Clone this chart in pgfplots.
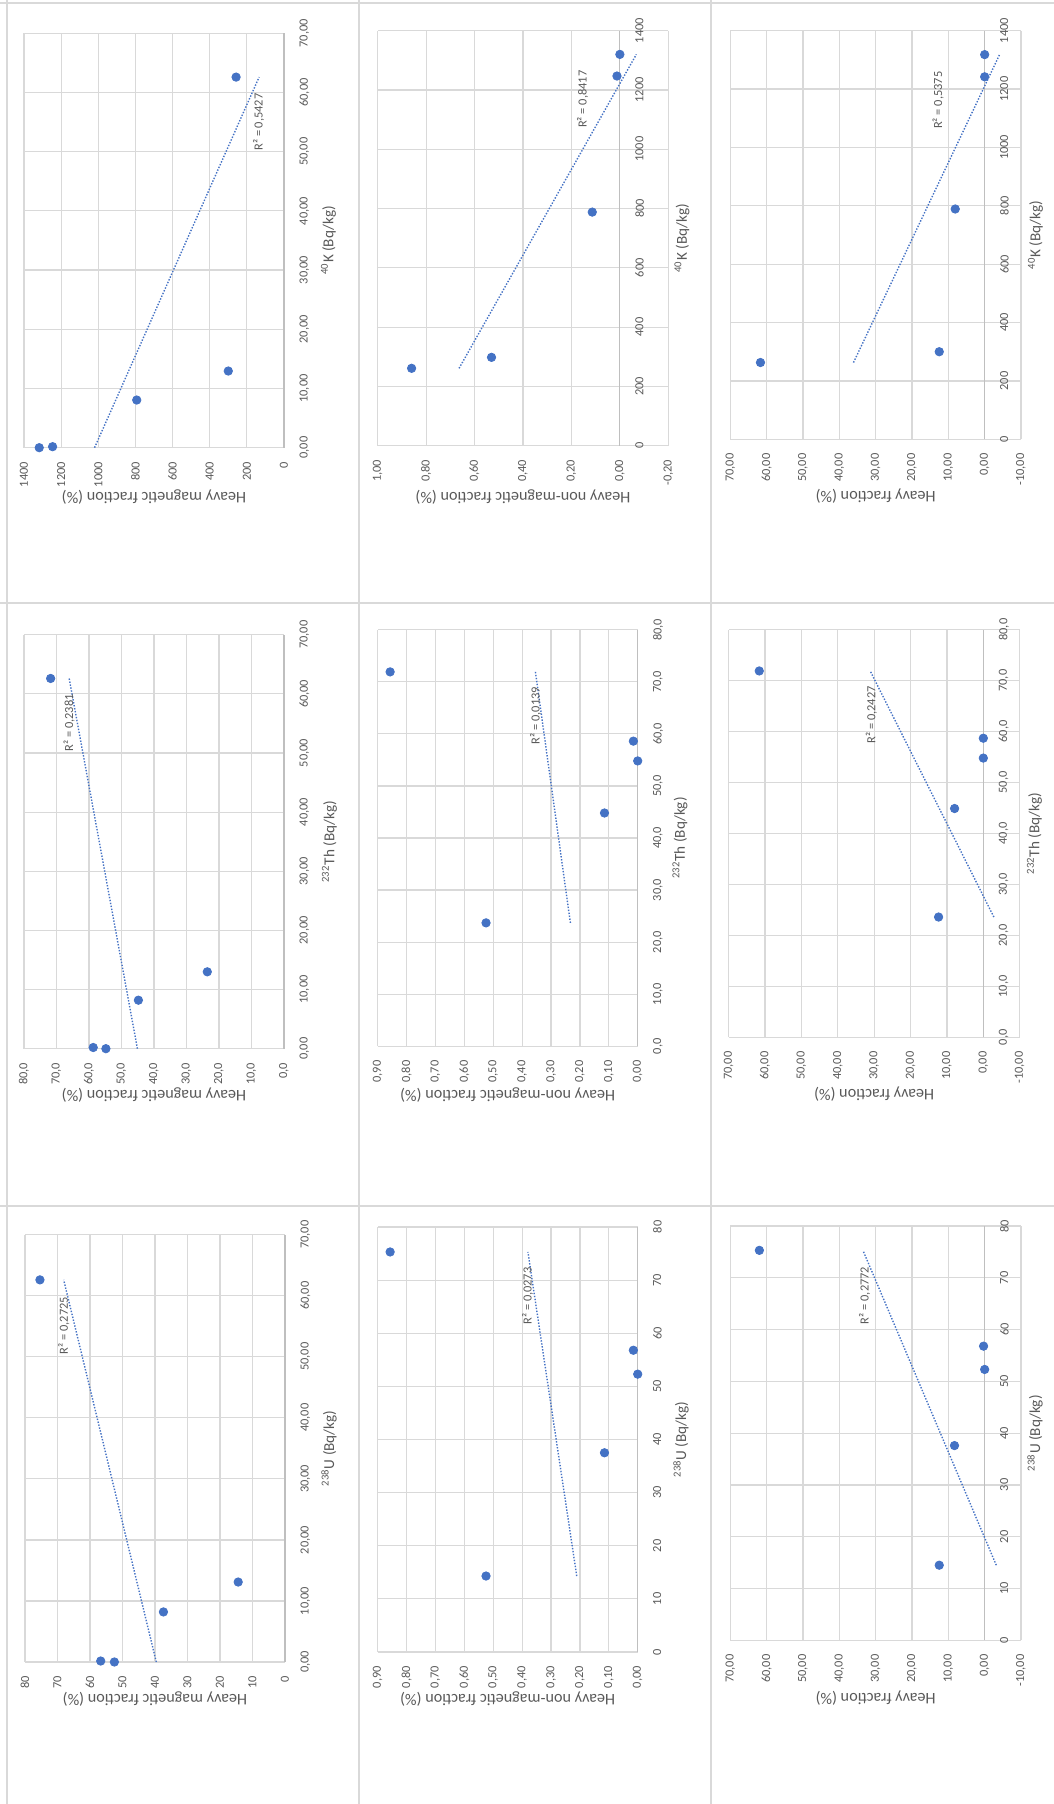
\documentclass[border=0pt]{standalone}
\usepackage{pgfplots}
\pgfplotsset{compat=1.18}
\usepackage{fontspec}
\setmainfont{Carlito}
\definecolor{dot}{HTML}{4472C4}
\definecolor{txt}{HTML}{595959}
\definecolor{grd}{HTML}{D9D9D9}
\definecolor{axl}{HTML}{BFBFBF}
\pgfplotsset{
  panel/.style={
    scale only axis,
    anchor=north west,
    axis x line*=middle,
    axis y line*=left,
    hide obscured x ticks=false,
    hide obscured y ticks=false,
    x axis line style={draw=axl, line width=0.6pt},
    y axis line style={draw=none},
    grid=major,
    major grid style={draw=grd, line width=0.6pt},
    major tick length=0pt,
    tick style={draw=none},
    ticklabel style={font=\fontsize{6.2}{7}\selectfont, text=txt},
    xticklabel style={yshift=-4.2pt},
    yticklabel style={xshift=-3.6pt},
    /pgf/number format/assume math mode=true,
    /pgf/number format/use comma,
    /pgf/number format/1000 sep={},
    clip=false,
  },
  xdec/.style={xticklabel style={/pgf/number format/fixed,/pgf/number format/fixed zerofill,/pgf/number format/precision=#1}},
  ydec/.style={yticklabel style={/pgf/number format/fixed,/pgf/number format/fixed zerofill,/pgf/number format/precision=#1}},
  pts/.style={only marks, mark=*, mark size=2.1pt, mark options={fill=dot, draw=dot}},
  trend/.style={dot, line width=0.7pt, dash pattern=on 0.7pt off 0.8pt},
}
\tikzset{
  r2/.style={font=\fontsize{6.2}{7}\selectfont, text=txt},
  xl/.style={font=\fontsize{7.6}{8}\selectfont, text=txt},
  yl/.style={font=\fontsize{8.1}{9}\selectfont, text=txt, rotate=90},
}
\begin{document}
\begin{tikzpicture}[rotate=90, transform shape]
\useasboundingbox (0,0) rectangle (902pt,-527pt);
% chart borders
\draw[grd, line width=0.7pt] (0pt,-3.5pt) -- (902pt,-3.5pt);
\draw[grd, line width=0.7pt] (0pt,-179.5pt) -- (902pt,-179.5pt);
\draw[grd, line width=0.7pt] (0pt,-355.5pt) -- (902pt,-355.5pt);
\draw[grd, line width=0.7pt] (299pt,0pt) -- (299pt,-527pt);
\draw[grd, line width=0.7pt] (600.5pt,0pt) -- (600.5pt,-527pt);
\draw[grd, line width=0.7pt] (900.5pt,0pt) -- (900.5pt,-527pt);

% ---------- Row 1: magnetic ----------
% P1 U
\begin{axis}[panel, at={(71pt,-12.5pt)}, width=213.65pt, height=130pt,
  xmin=0, xmax=70, ymin=0, ymax=80, xtick distance=10, ytick distance=10, xdec=2]
\addplot[pts] coordinates {(62.6,75.4) (13.1,14.4) (8.2,37.4) (0.16,56.7) (0,52.5)};
\addplot[trend] coordinates {(0,39.6) (62.6,68.1)};
\node[r2] at (axis cs:55.1,68.0) {R² = 0,2725};
\end{axis}
% P4 Th
\begin{axis}[panel, at={(377.65pt,-12pt)}, width=207pt, height=130pt,
  xmin=0, xmax=70, ymin=0, ymax=80, xtick distance=10, ytick distance=10, xdec=2, ydec=1]
\addplot[pts] coordinates {(62.6,71.8) (13.0,23.6) (8.2,44.8) (0.2,58.7) (0,54.8)};
\addplot[trend] coordinates {(0,45.1) (62.6,66.1)};
\node[r2] at (axis cs:55.1,66.1) {R² = 0,2381};
\end{axis}
% P7 K
\begin{axis}[panel, at={(678.15pt,-12pt)}, width=207.2pt, height=130pt,
  xmin=0, xmax=70, ymin=0, ymax=1400, xtick distance=10, ytick distance=200, xdec=2]
\addplot[pts] coordinates {(62.6,258) (12.95,300) (8.05,793) (0,1318) (0.17,1246)};
\addplot[trend] coordinates {(0,1020) (62.6,134)};
\node[r2] at (axis cs:55,136) {R² = 0,5427};
\end{axis}

% ---------- Row 2: non-magnetic ----------
% P2 U
\begin{axis}[panel, at={(76pt,-188.85pt)}, width=212.5pt, height=130pt,
  xmin=0, xmax=80, ymin=0, ymax=0.9, xtick distance=10,
  ytick={0,0.1,0.2,0.3,0.4,0.5,0.6,0.7,0.8,0.9}, ydec=2]
\addplot[pts] coordinates {(75.3,0.857) (14.3,0.525) (37.5,0.115) (56.8,0.015) (52.3,0)};
\addplot[trend] coordinates {(14.3,0.211) (75.3,0.380)};
\node[r2] at (axis cs:67,0.381) {R² = 0,0273};
\end{axis}
% P5 Th
\begin{axis}[panel, at={(378.85pt,-188.85pt)}, width=208.3pt, height=130pt,
  xmin=0, xmax=80, ymin=0, ymax=0.9, xtick distance=10,
  ytick={0,0.1,0.2,0.3,0.4,0.5,0.6,0.7,0.8,0.9}, xdec=1, ydec=2]
\addplot[pts] coordinates {(71.9,0.857) (23.7,0.525) (44.8,0.115) (58.6,0.015) (54.8,0)};
\addplot[trend] coordinates {(23.7,0.233) (71.9,0.354)};
\node[r2] at (axis cs:63.5,0.353) {R² = 0,0139};
\end{axis}
% P8 K
\begin{axis}[panel, at={(679.15pt,-188.85pt)}, width=207.5pt, height=145.3pt,
  xmin=0, xmax=1400, ymin=-0.2, ymax=1.0, xtick distance=200,
  ytick={-0.2,0,0.2,0.4,0.6,0.8,1.0}, ydec=2]
\addplot[pts] coordinates {(261,0.86) (298,0.53) (788,0.114) (1247,0.012) (1320,0)};
\addplot[trend] coordinates {(261,0.664) (1320,-0.068)};
\node[r2] at (axis cs:1169,0.154) {R² = 0,8417};
\end{axis}

% ---------- Row 3: heavy ----------
% P3 U
\begin{axis}[panel, at={(81.85pt,-365.15pt)}, width=207.15pt, height=145.35pt,
  xmin=0, xmax=80, ymin=-10, ymax=70, xtick distance=10, ytick distance=10, ydec=2]
\addplot[pts] coordinates {(75.3,62.0) (14.5,12.5) (37.6,8.3) (56.8,0.3) (52.3,0)};
\addplot[trend] coordinates {(14.5,-3.2) (75.3,33.5)};
\node[r2] at (axis cs:66.6,33.0) {R² = 0,2772};
\end{axis}
% P6 Th
\begin{axis}[panel, at={(383.35pt,-364.35pt)}, width=203.8pt, height=145.5pt,
  xmin=0, xmax=80, ymin=-10, ymax=70, xtick distance=10, ytick distance=10, xdec=1, ydec=2]
\addplot[pts] coordinates {(71.9,61.6) (23.6,12.3) (44.9,7.9) (58.7,0) (54.8,0)};
\addplot[trend] coordinates {(23.6,-2.9) (71.9,31.1)};
\node[r2] at (axis cs:63.3,30.8) {R² = 0,2427};
\end{axis}
% P9 K
\begin{axis}[panel, at={(682.35pt,-365.15pt)}, width=204.3pt, height=145.35pt,
  xmin=0, xmax=1400, ymin=-10, ymax=70, xtick distance=200, ytick distance=10, ydec=2]
\addplot[pts] coordinates {(263,61.7) (300,12.5) (789,8.1) (1242,0) (1318,0)};
\addplot[trend] coordinates {(263,36.1) (1318,-4.1)};
\node[r2] at (axis cs:1162,12.8) {R² = 0,5375};
\end{axis}

% ---------- axis titles ----------
\node[xl] at (177.8pt,-164.5pt) {\textsuperscript{238}U (Bq/kg)};
\node[xl] at (182.25pt,-340.5pt) {\textsuperscript{238}U (Bq/kg)};
\node[xl] at (185.4pt,-517.5pt) {\textsuperscript{238}U (Bq/kg)};
\node[xl] at (481.15pt,-164.75pt) {\textsuperscript{232}Th (Bq/kg)};
\node[xl] at (483pt,-340pt) {\textsuperscript{232}Th (Bq/kg)};
\node[xl] at (485.25pt,-517.25pt) {\textsuperscript{232}Th (Bq/kg)};
\node[xl] at (781.75pt,-164.25pt) {\textsuperscript{40}K (Bq/kg)};
\node[xl] at (782.9pt,-341pt) {\textsuperscript{40}K (Bq/kg)};
\node[xl] at (784.5pt,-517.75pt) {\textsuperscript{40}K (Bq/kg)};

\node[yl] at (52.25pt,-77.5pt) {Heavy magnetic fraction (\%)};
\node[yl] at (52.25pt,-253.85pt) {Heavy non-magnetic fraction (\%)};
\node[yl] at (52.75pt,-437.85pt) {Heavy fraction (\%)};
\node[yl] at (354.25pt,-77pt) {Heavy magnetic fraction (\%)};
\node[yl] at (354.25pt,-253.85pt) {Heavy non-magnetic fraction (\%)};
\node[yl] at (355pt,-437.1pt) {Heavy fraction (\%)};
\node[yl] at (653.25pt,-77pt) {Heavy magnetic fraction (\%)};
\node[yl] at (653.25pt,-261.5pt) {Heavy non-magnetic fraction (\%)};
\node[yl] at (654pt,-437.85pt) {Heavy fraction (\%)};
\end{tikzpicture}
\end{document}
